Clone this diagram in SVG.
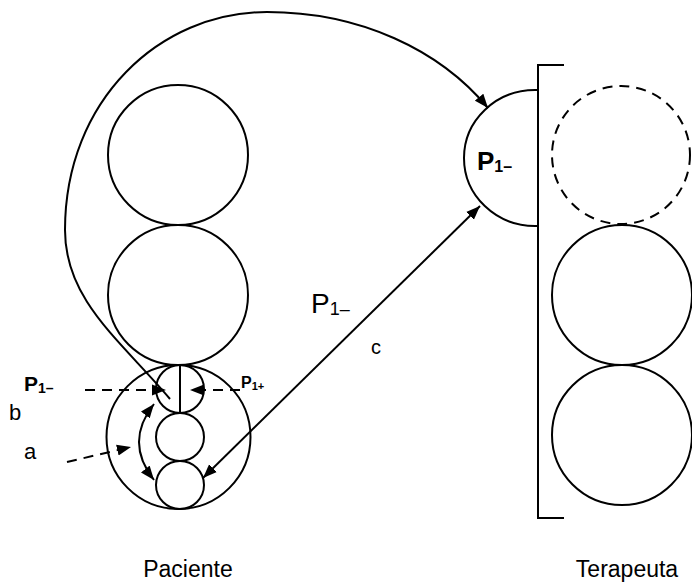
<svg xmlns="http://www.w3.org/2000/svg" width="692" height="582" viewBox="0 0 692 582">
<style>
.s{fill:none;stroke:#000;stroke-width:2}
.d{fill:none;stroke:#000;stroke-width:2;stroke-dasharray:10 7}
.t{font-family:"Liberation Sans",Arial,sans-serif;fill:#000}
.b{font-family:"Liberation Sans",Arial,sans-serif;fill:#000;font-weight:bold}
</style>
<defs>
<marker id="ah" markerUnits="userSpaceOnUse" markerWidth="16" markerHeight="12" refX="14" refY="5.5" orient="auto-start-reverse" viewBox="0 0 16 11">
<path d="M0,0 L14,5.5 L0,11 z" fill="#000"/>
</marker>
</defs>
<rect width="692" height="582" fill="#fff"/>
<g id="paciente">
<circle class="s" cx="178" cy="155" r="70"/>
<circle class="s" cx="178" cy="295" r="70"/>
<circle class="s" cx="178.5" cy="437" r="72"/>
<circle class="s" cx="180" cy="389" r="24"/>
<circle class="s" cx="180" cy="437" r="24"/>
<circle class="s" cx="180" cy="485" r="24"/>
<line class="s" x1="180" y1="365" x2="180" y2="413"/>
<text class="t" x="188" y="577" font-size="23" text-anchor="middle">Paciente</text>
</g>
<g id="terapeuta">
<path class="s" d="M538,90 L535,90 A71,68 0 0 0 535,226 L538,226"/>
<path class="s" d="M564,65 L538,65 L538,518 L564,518"/>
<circle class="d" cx="621" cy="155" r="69"/>
<circle class="s" cx="622" cy="295" r="70"/>
<circle class="s" cx="622" cy="435" r="70"/>
<text class="b" x="477" y="170" font-size="26">P<tspan font-size="16" dy="2">1–</tspan></text>
<text class="t" x="627" y="577" font-size="23" text-anchor="middle">Terapeuta</text>
</g>
<g id="connectors">
<path class="s" d="M170,399 C120,340 65,300 65,230 C65,100 160,12 267,12 C360,12 440,50 488,108" marker-end="url(#ah)"/>
<line class="s" x1="203" y1="478" x2="480" y2="206" marker-start="url(#ah)" marker-end="url(#ah)"/>
<path class="s" d="M154,404 Q124,442 154,480" marker-start="url(#ah)" marker-end="url(#ah)"/>
<line class="d" x1="85" y1="390" x2="166" y2="390" marker-end="url(#ah)"/>
<line class="d" x1="240" y1="390" x2="190" y2="390" marker-end="url(#ah)"/>
<line class="d" x1="67" y1="462" x2="131" y2="447" marker-end="url(#ah)"/>
</g>
<g id="labels">
<text class="b" x="24" y="391" font-size="21">P<tspan font-size="14" dy="2">1–</tspan></text>
<text class="b" x="241" y="388" font-size="16">P<tspan font-size="11" dy="2">1+</tspan></text>
<text class="t" x="24" y="459" font-size="22">a</text>
<text class="t" x="9" y="420" font-size="22">b</text>
<text class="t" x="371" y="354" font-size="20">c</text>
<text class="t" x="311" y="313" font-size="28">P<tspan font-size="18" dy="2">1–</tspan></text>
</g>
</svg>
